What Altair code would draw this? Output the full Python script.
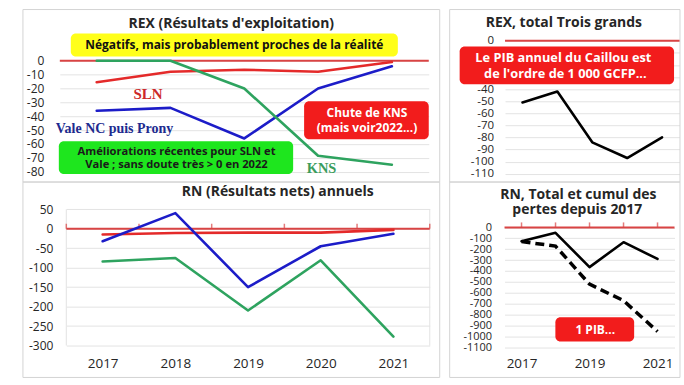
import altair as alt
import pandas as pd

# ---------------- data ----------------
years = [2017, 2018, 2019, 2020, 2021]
series = ["SLN", "Vale NC puis Prony", "KNS"]

rex_sln = [-15.5, -8, -6.5, -8, -1]
rex_vale = [-36, -34, -56, -20, -4]
rex_kns = [0, 0, -20, -68.5, -75]
rex_total = [-51, -42, -84, -97, -80]

rn_sln = [-15, -11, -10, -10, -3]
rn_vale = [-32, 40, -150, -45, -13]
rn_kns = [-84, -75, -210, -81, -277]
rn_total = [-127, -50, -365, -136, -290]
rn_cumul = [-130, -172, -522, -673, -957]

rex_ticks = [0, -10, -20, -30, -40, -50, -60, -70, -80]
rex_total_ticks = [0, -10, -20, -30, -40, -50, -60, -70, -80, -90, -100, -110]
rn_ticks = [50, 0, -50, -100, -150, -200, -250, -300]
rn_total_ticks = [0, -100, -200, -300, -400, -500, -600, -700, -800, -900, -1000, -1100]
bottom_left_years = [2017, 2018, 2019, 2020, 2021]
bottom_right_years = [2017, 2019, 2021]

# ---------------- styles ----------------
FONT = "Open Sans"
SERIF = "Liberation Serif"
C_SLN = "#e42a2a"
C_VALE = "#1c1cc8"
C_KNS = "#2ea35f"
ZERO = "#d94444"
GRID = "#e3e3e3"
BORDER = "#d4d4d4"
RED_BOX = "#f21c1c"
TXT = "#262626"

one = pd.DataFrame({"k": [0]})


def long_df(names, cols):
    rows = []
    for name, vals in zip(names, cols):
        for yr, v in zip(years, vals):
            rows.append({"year": yr, "value": v, "series": name})
    return pd.DataFrame(rows)


def xscale(rng):
    return alt.Scale(domain=[2016.5, 2021.5], range=rng, nice=False, zero=False)


def yscale(dom, rng):
    return alt.Scale(domain=dom, range=rng, nice=False, zero=False)


def xaxis(values):
    if values is None:
        return None
    return alt.Axis(values=values, format="d", grid=False, domain=False, ticks=False,
                    labelFont=FONT, labelFontSize=13.5, labelColor=TXT, labelPadding=8,
                    labelFlush=False, labelOverlap=False, title=None)


def yaxis(values, pad, size=12, expr="'' + datum.value"):
    return alt.Axis(values=values, grid=True, gridColor=GRID, gridWidth=1, domain=False,
                    ticks=False, labelPadding=pad, labelFont=FONT, labelFontSize=size,
                    labelColor=TXT, labelExpr=expr, labelOverlap=False,
                    labelFlush=False, title=None)


def border(x1, x2, y1, y2):
    return alt.Chart(one).mark_rect(fillOpacity=0, stroke=BORDER, strokeWidth=1).encode(
        x=alt.value(x1), x2=alt.value(x2), y=alt.value(y1), y2=alt.value(y2))


def box(x1, x2, y1, y2, color, r=5):
    return alt.Chart(one).mark_rect(color=color, cornerRadius=r).encode(
        x=alt.value(x1), x2=alt.value(x2), y=alt.value(y1), y2=alt.value(y2))


def label(x, y, text, size, color, font=FONT, align="center", baseline="middle"):
    return alt.Chart(one).mark_text(font=font, fontSize=size, fontWeight="bold", color=color,
                                    align=align, baseline=baseline).encode(
        x=alt.value(x), y=alt.value(y), text=alt.value(text))


def heading(x, y, text):
    return label(x, y, text, 14, TXT, baseline="alphabetic")


def panel(df, names, colors, xs, ys, xa, ya, extra_before=(), extra_after=(), width=100,
          height=100, dashed=None, ticks_at=None):
    X = alt.X("year:Q", scale=xs, axis=xa)
    Y = alt.Y("value:Q", scale=ys, axis=ya)
    layers = list(extra_before)
    layers.append(alt.Chart(one).mark_rule(color=ZERO, strokeWidth=2).encode(
        x=alt.datum(2016.5, type="quantitative", scale=xs, axis=xa),
        x2=alt.datum(2021.5),
        y=alt.datum(0, type="quantitative", scale=ys, axis=ya)))
    if ticks_at is not None:
        layers.append(alt.Chart(pd.DataFrame({"year": ticks_at})).mark_tick(
            orient="vertical", color=ZERO, thickness=1.5, size=5, yOffset=-2.5).encode(
            x=X, y=alt.datum(0, type="quantitative", scale=ys, axis=ya)))
    if len(names) > 1:
        layers.append(alt.Chart(df).mark_line(strokeWidth=2.6, strokeJoin="round",
                                              strokeCap="round").encode(
            x=X, y=Y,
            color=alt.Color("series:N", scale=alt.Scale(domain=names, range=colors),
                            legend=None)))
    else:
        layers.append(alt.Chart(df).mark_line(strokeWidth=2.6, strokeJoin="round",
                                              strokeCap="round", color=colors[0]).encode(
            x=X, y=Y))
    if dashed is not None:
        layers.append(alt.Chart(dashed).mark_line(strokeWidth=3.5, strokeDash=[9, 5],
                                                  color="black").encode(x=X, y=Y))
    layers += list(extra_after)
    return alt.layer(*layers).properties(width=width, height=height)


W1, W2, H1, H2 = 371, 178, 134, 140

# ---------------- top left: REX ----------------
tl = panel(
    long_df(series, [rex_sln, rex_vale, rex_kns]), series, [C_SLN, C_VALE, C_KNS],
    xscale([0, 370]), yscale([-80, 0], [131.7, 20.3]), None, yaxis(rex_ticks, 16),
    extra_before=[border(-37, 381, -31, 142)],
    extra_after=[
        heading(172, -12.5, "REX (Résultats d'exploitation)"),
        box(11, 339, -7, 16, "#ffff1a"),
        label(175, 5, "Négatifs, mais probablement proches de la réalité", 12, "#111111"),
        label(88.5, 53.5, "SLN", 15, "#cc2929", font=SERIF),
        label(-4, 89, "Vale NC puis Prony", 14, "#202a8f", font=SERIF, align="left"),
        label(262.5, 129, "KNS", 14.5, "#3a9d5d", font=SERIF),
        box(-1, 234, 101, 134, "#1ee61e"),
        label(117, 111.7, "Améliorations récentes pour SLN et", 11.2, "#1a1a1a"),
        label(117, 125, "Vale ; sans doute très > 0 en 2022", 11.2, "#1a1a1a"),
        box(245, 370, 61, 99, RED_BOX),
        label(308, 72.7, "Chute de KNS", 12, "white"),
        label(308, 87.7, "(mais voir2022...)", 12, "white"),
    ],
    width=W1, height=H1)

# ---------------- top right: REX total ----------------
# labels -10..-30 are hidden behind the red note in the reference
tr = panel(
    long_df(["Total"], [rex_total]), ["Total"], ["black"],
    xscale([2.5, 177.5]), yscale([-110, 0], [133.7, 0.3]), None,
    yaxis(rex_total_ticks, 9, 11.5,
          "datum.value < -5 && datum.value > -35 ? '' : '' + datum.value"),
    extra_before=[border(-53, 178, -31, 142)],
    extra_after=[
        heading(61.5, -13, "REX, total Trois grands"),
        box(-43, 172, 6, 44, RED_BOX),
        label(61, 17.7, "Le PIB annuel du Caillou est", 12.8, "white"),
        label(63, 33.7, "de l'ordre de 1 000 GCFP...", 12.8, "white"),
    ],
    width=W2, height=H1)

# ---------------- bottom left: RN ----------------
bl_xs = xscale([6.5, 371])
bl_ys = yscale([-300, 50], [137, 0.3])
bl_frame = alt.Chart(pd.DataFrame({"year": [2016.5, 2021.5]})).mark_rule(
    color=GRID, strokeWidth=1).encode(
    x=alt.X("year:Q", scale=bl_xs, axis=xaxis(bottom_left_years)),
    y=alt.datum(-300, type="quantitative", scale=bl_ys, axis=yaxis(rn_ticks, 7)),
    y2=alt.datum(50))
bl = panel(
    long_df(series, [rn_sln, rn_vale, rn_kns]), series, [C_SLN, C_VALE, C_KNS],
    bl_xs, bl_ys, xaxis(bottom_left_years), yaxis(rn_ticks, 7),
    extra_before=[border(-37, 381, -27, 169), bl_frame],
    extra_after=[heading(218.5, -12.5, "RN (Résultats nets) annuels")],
    width=W1, height=H2,
    ticks_at=[2016.5, 2017.5, 2018.5, 2019.5, 2020.5, 2021.5])

# ---------------- bottom right: RN total + cumul ----------------
br_cumul = pd.DataFrame({"year": years, "value": rn_cumul})
br = panel(
    long_df(["Total"], [rn_total]), ["Total"], ["black"],
    xscale([2, 172.5]), yscale([-1100, 0], [138.5, 18.5]), xaxis(bottom_right_years),
    yaxis(rn_total_ticks, 11, 11),
    extra_before=[border(-53, 178, -27, 169)],
    extra_after=[
        heading(76, -9.5, "RN, Total et cumul des"),
        heading(75, 5.5, "pertes depuis 2017"),
        box(53, 132, 108.7, 133, RED_BOX),
        label(93, 121.5, "1 PIB...", 12, "white"),
    ],
    width=W2, height=H2,
    dashed=br_cumul, ticks_at=years)

chart = alt.concat(tl, tr, bl, br, columns=2, spacing={"row": 35, "column": 73},
                   bounds="flush").properties(
    padding={"left": 22, "top": 8, "right": 3, "bottom": 8},
    background="white",
).configure_view(stroke=None)

chart.save("out.html", embed_options={"renderer": "svg", "actions": False})
